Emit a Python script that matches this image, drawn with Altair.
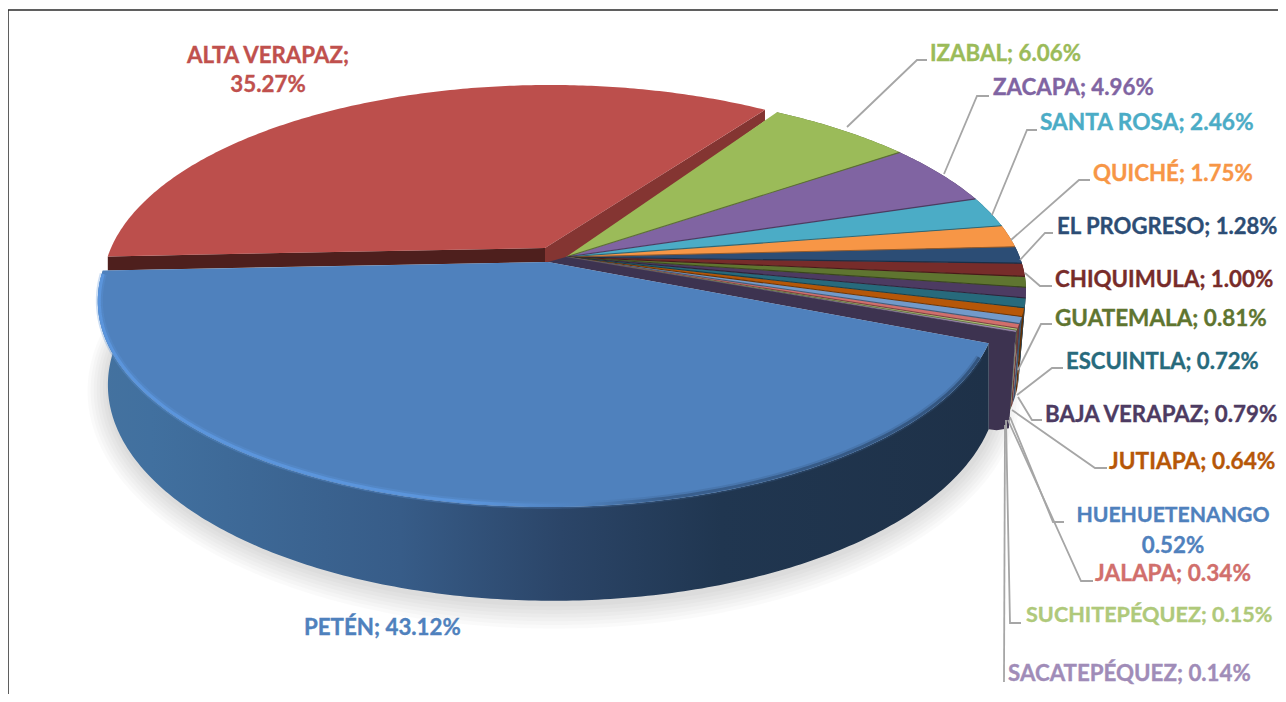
import math
import altair as alt

# ---- values (clockwise, starting at IZABAL) ----
NAMES = ["IZABAL", "ZACAPA", "SANTA ROSA", "QUICHÉ", "EL PROGRESO", "CHIQUIMULA",
         "GUATEMALA", "BAJA VERAPAZ", "ESCUINTLA", "JUTIAPA", "HUEHUETENANGO",
         "JALAPA", "SUCHITEPÉQUEZ", "SACATEPÉQUEZ", "PETÉN", "ALTA VERAPAZ"]
VALUES = [6.06, 4.96, 2.46, 1.75, 1.28, 1.00, 0.81, 0.79, 0.72, 0.64, 0.52, 0.34,
          0.15, 0.14, 43.12, 35.27]
COLORS = ["#9bbb59", "#8064a2", "#4bacc6", "#f79646", "#2c4d75", "#772c2a", "#5f7530",
          "#4d3b62", "#276a7c", "#b65708", "#729aca", "#d16f6c", "#afc97a", "#a08cb8",
          "#4f81bd", "#bc4f4c"]
TEXT_COLORS = ["#9bbb59", "#8064a2", "#4bacc6", "#f79646", "#2c4d75", "#772c2a", "#5f7530",
               "#4d3b62", "#276a7c", "#b65708", "#4f81bd", "#d16f6c", "#afc97a", "#a08cb8",
               "#4f81bd", "#c0504d"]

# ---- layout: (centre x, centre y, half width, half height, perspective) ----
W, H = 1270, 686
START = 32.0
GROUP = (566, 257, 453.7, 194.5, 0.165)
ALTA = (550, 248, 439, 194, 0.19)
ALTA_VERTEX = [545, 248]
PETEN_TOP = (548, 262, 442, 198.5, 0.19)
PETEN_BOTTOM = (553, 344, 437, 208, 0.19)
PETEN_TURN = 2.5
ALTA_TURN = 2.5
GROUP_DROP = 80
FONT_SIZE = 22.3
FONT_SIZES = {"SANTA ROSA": 22.7, "JUTIAPA": 22.7, "EL PROGRESO": 22.1, "HUEHUETENANGO": 21.2,
              "SUCHITEPÉQUEZ": 21.6, "GUATEMALA": 22.5, "JALAPA": 22.6, "ESCUINTLA": 22.1}

LABEL_POS = {
    "IZABAL": (930, 54), "ZACAPA": (993, 88), "SANTA ROSA": (1040, 123), "QUICHÉ": (1093, 174),
    "EL PROGRESO": (1057, 227), "CHIQUIMULA": (1055, 280), "GUATEMALA": (1055, 319),
    "BAJA VERAPAZ": (1045, 415), "ESCUINTLA": (1066, 362), "JUTIAPA": (1109, 462),
    "JALAPA": (1095, 574), "SUCHITEPÉQUEZ": (1026, 616), "SACATEPÉQUEZ": (1008, 674),
    "PETÉN": (304, 628),
}
TWO_LINE_POS = {"ALTA VERAPAZ": (268, 56, 85), "HUEHUETENANGO": (1173, 516, 546)}
LEADERS = {
    "IZABAL": [(847, 127), (917, 60), (927, 60)],
    "ZACAPA": [(944, 174), (977, 96), (989, 96)],
    "SANTA ROSA": [(992, 215), (1027, 130), (1037, 130)],
    "QUICHÉ": [(1011, 240), (1079, 180), (1090, 180)],
    "EL PROGRESO": [(1020, 260), (1045, 233), (1053, 233)],
    "CHIQUIMULA": [(1025, 273), (1040, 286), (1052, 286)],
    "GUATEMALA": [(1018, 370), (1041, 324), (1052, 324)],
    "ESCUINTLA": [(1017, 395), (1052, 368), (1063, 368)],
    "BAJA VERAPAZ": [(1018, 397), (1032, 420), (1042, 420)],
    "JUTIAPA": [(1012, 410), (1095, 468), (1107, 468)],
    "HUEHUETENANGO": [(1010, 417), (1053, 522), (1064, 522)],
    "JALAPA": [(1008, 420), (1081, 581), (1093, 581)],
    "SUCHITEPÉQUEZ": [(1006, 420), (1010, 623), (1021, 623)],
    "SACATEPÉQUEZ": [(1005, 425), (1004, 682)],
}
FRAME = [(8, 694), (8, 10), (1278, 10)]


def project(p, angle, grow=0.0):
    cx, cy, a, b, k = p
    t = math.radians(angle)
    u, v = math.sin(t), -math.cos(t)
    d = 1 - k * v
    return [cx + (a + grow) * u / d, cy + (b + grow) * v / d]


def rim(p, a0, a1, grow=0.0):
    n = max(2, int(abs(a1 - a0) * 1.5))
    return [project(p, a0 + (a1 - a0) * i / n, grow) for i in range(n + 1)]


def poly(points, color="#000000"):
    return {"type": "Feature", "properties": {"color": color},
            "geometry": {"type": "Polygon", "coordinates": [points + [points[0]]]}}


def path(points, color="#000000"):
    return {"type": "Feature", "properties": {"color": color},
            "geometry": {"type": "LineString", "coordinates": points}}


def darker(hex_color, f):
    r, g, b = (int(hex_color[i:i + 2], 16) for i in (1, 3, 5))
    return "#%02x%02x%02x" % (int(r * f), int(g * f), int(b * f))


def shapes(features, **mark):
    return alt.Chart(alt.Data(values=features)).mark_geoshape(**mark).project(
        type="identity", scale=1, translate=[-8, -8])


def coloured(features, **mark):
    return shapes(features, **mark).encode(color=alt.Color("properties.color:N", scale=None))


def warp(angle):
    # the picture's perspective pushes the lower small slices a little further round
    return angle + 1.5 * max(0.0, (angle - 85.0) / 25.0)


# ---- angles from the values ----
total = sum(VALUES)
angles = {}
a = START
for name, value in zip(NAMES, VALUES):
    angles[name] = (a, a + value / total * 360)
    a = angles[name][1]

small = [(n, c) for n, c in zip(NAMES, COLORS) if n not in ("PETÉN", "ALTA VERAPAZ")]
small_angles = {n: (warp(angles[n][0]), warp(angles[n][1])) for n, _ in small}
vertex = [GROUP[0], GROUP[1]]

# shadow
shadow_base = (PETEN_BOTTOM[0] + 1, PETEN_BOTTOM[1] + 2) + PETEN_BOTTOM[2:]
shadow = [poly(rim(shadow_base, 0, 360, g)) for g in (3, 6, 9, 12, 15, 18, 21)]

# side of the small slices
group_walls = []
for n, c in small:
    top = rim(GROUP, *small_angles[n])
    low = [[GROUP[0] + (x - GROUP[0]) * 0.985, y + GROUP_DROP] for x, y in top]
    group_walls.append(poly(top + low[::-1], darker(c, 0.55)))

# Alta Verapaz
a0, a1 = angles["ALTA VERAPAZ"]
a0 += ALTA_TURN
a1 += ALTA_TURN
left = project(ALTA, a0)
right = project(ALTA, a1)
alta_top = poly([ALTA_VERTEX] + rim(ALTA, a0, a1), COLORS[15])
alta_cut_left = poly([left, ALTA_VERTEX, [ALTA_VERTEX[0], ALTA_VERTEX[1] + 14], [left[0], left[1] + 14]], "#4e1f1d")
alta_cut_right = poly([ALTA_VERTEX, right, [right[0], right[1] + 11], [vertex[0], vertex[1] + 5],
                       [ALTA_VERTEX[0], ALTA_VERTEX[1] + 14]], "#843532")

# small slices
tops = [poly([vertex] + rim(GROUP, *small_angles[n]), c) for n, c in small]
edges = [path([vertex, project(GROUP, small_angles[n][1])], darker(c, 0.6)) for n, c in small]

# Petén
p0, p1 = angles["PETÉN"]
p0 += PETEN_TURN
p1 += PETEN_TURN
pv = [PETEN_TOP[0], PETEN_TOP[1]]
pt_arc = rim(PETEN_TOP, p0, p1)
pb_arc = rim(PETEN_BOTTOM, p0, p1)
group_end = project(GROUP, warp(angles["PETÉN"][0]))
group_end_low = [GROUP[0] + (group_end[0] - GROUP[0]) * 0.985, group_end[1] + GROUP_DROP + 16]
cut = poly([vertex, group_end, group_end_low, [pb_arc[0][0] + 8, pb_arc[0][1] + 1], pb_arc[0], pt_arc[0], pv], "#3d3350")
wall_fill = {"gradient": "linear", "x1": 0, "y1": 0, "x2": 1, "y2": 0, "stops": [
    {"offset": 0.0, "color": "#44729f"}, {"offset": 0.06, "color": "#41709f"},
    {"offset": 0.34, "color": "#375c88"}, {"offset": 0.52, "color": "#2b4568"},
    {"offset": 0.7, "color": "#203650"}, {"offset": 1.0, "color": "#1e3148"}]}
rim_stroke = {"gradient": "linear", "x1": 0, "y1": 0, "x2": 1, "y2": 0, "stops": [
    {"offset": 0.0, "color": "#5b95dc"}, {"offset": 0.42, "color": "#5b95dc"},
    {"offset": 0.55, "color": "#4f81bd"}, {"offset": 0.64, "color": "#3a608f"},
    {"offset": 1.0, "color": "#33557f"}]}
rim_line = path(rim(PETEN_TOP, p1 - 1, p0 + 4, -1.5))

# texts
left_rows = []
center_rows = []
for name, value, color in zip(NAMES, VALUES, TEXT_COLORS):
    size = FONT_SIZES.get(name, FONT_SIZE)
    if name in LABEL_POS:
        x, y = LABEL_POS[name]
        left_rows.append({"t": f"{name}; {value:.2f}%", "x": x, "y": y, "c": color, "s": size})
    else:
        x, y1, y2 = TWO_LINE_POS[name]
        head = name + ";" if name == "ALTA VERAPAZ" else name
        center_rows.append({"t": head, "x": x, "y": y1, "c": color, "s": size})
        center_rows.append({"t": f"{value:.2f}%", "x": x, "y": y2, "c": color, "s": FONT_SIZE})

X = alt.X("x:Q", axis=None, scale=alt.Scale(domain=[8, 8 + W], range=[0, W]))
Y = alt.Y("y:Q", axis=None, scale=alt.Scale(domain=[8, 8 + H], range=[0, H]))
leader_rows = [{"n": n, "i": i, "x": x, "y": y} for n, pts in LEADERS.items() for i, (x, y) in enumerate(pts)]
frame_rows = [{"i": i, "x": x, "y": y} for i, (x, y) in enumerate(FRAME)]


def text_layer(rows, align):
    return alt.Chart(alt.Data(values=rows)).mark_text(
        font="Lato", fontWeight="bold", align=align, baseline="middle", strokeWidth=0.35
    ).encode(x=X, y=Y, text="t:N", color=alt.Color("c:N", scale=None),
             stroke=alt.Stroke("c:N", scale=None), size=alt.Size("s:Q", scale=None))


chart = alt.layer(
    alt.Chart(alt.Data(values=frame_rows)).mark_line(color="#2b2b2b", strokeWidth=1.5, clip=False).encode(x=X, y=Y, order="i:O"),
    shapes(shadow, fill="#000000", fillOpacity=0.02, strokeWidth=0),
    coloured(group_walls, strokeWidth=0),
    coloured([alta_cut_left, alta_cut_right], strokeWidth=0),
    coloured([alta_top], strokeWidth=0),
    coloured(tops, strokeWidth=0),
    shapes(edges, filled=False, strokeWidth=1.1).encode(stroke=alt.Stroke("properties.color:N", scale=None)),
    coloured([cut], strokeWidth=0),
    shapes([poly(pt_arc + pb_arc[::-1])], fill=wall_fill, strokeWidth=0),
    coloured([poly([pv] + pt_arc, COLORS[14])], strokeWidth=0),
    shapes([rim_line], filled=False, stroke=rim_stroke, strokeWidth=7, strokeOpacity=0.3),
    shapes([rim_line], filled=False, stroke=rim_stroke, strokeWidth=3),
    alt.Chart(alt.Data(values=leader_rows)).mark_line(color="#a6a6a6", strokeWidth=1.8).encode(
        x=X, y=Y, detail="n:N", order="i:O"),
    text_layer(left_rows, "left"),
    text_layer(center_rows, "center"),
).properties(width=W, height=H, padding=0, autosize="none", background="#ffffff").configure_view(stroke=None)

chart.save("out.html", embed_options={"renderer": "svg", "actions": False})
